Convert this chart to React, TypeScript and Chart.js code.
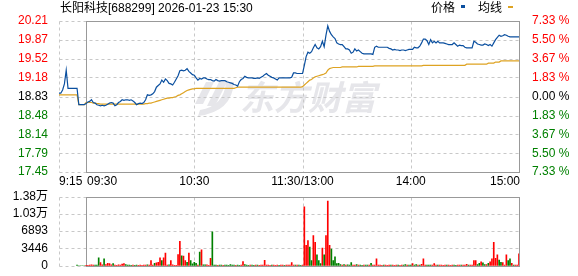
import React, { useEffect, useRef } from 'react';
import { Chart, registerables } from 'chart.js';
Chart.register(...registerables);

const titleText = '长阳科技[688299] 2026-01-23 15:30';
const legendLabels = ['价格', '均线'];
const timeTickValues = [0, 15, 75, 135, 195, 255];
const timeTickLabels = ['9:15', '09:30', '10:30', '11:30/13:00', '14:00', '15:00'];
const prevClose = 18.83;
const priceTickLabels = ['17.45', '17.79', '18.14', '18.48', '18.83', '19.18', '19.52', '19.87', '20.21'];
const pctTickLabels = ['7.33 %', '5.50 %', '3.67 %', '1.83 %', '0.00 %', '1.83 %', '3.67 %', '5.50 %', '7.33 %'];
const volTickValues = [0, 3446, 6893, 10339, 13786];
const volTickLabels = ['0', '3446', '6893', '1.03万', '1.38万'];

// minute index 0 = 9:15, one value per minute
const priceValues = [
  18.89, 18.89, 18.95, 19.06, 19.31, 18.98, 18.98, 18.98, 18.98, 18.98,
  18.98, 18.68, 18.68, 18.68, 18.68, 18.70, 18.73, 18.74, 18.77, 18.72,
  18.71, 18.68, 18.67, 18.66, 18.67, 18.66, 18.67, 18.69, 18.71, 18.72,
  18.71, 18.66, 18.68, 18.72, 18.74, 18.77, 18.76, 18.77, 18.77, 18.76,
  18.77, 18.75, 18.72, 18.68, 18.70, 18.71, 18.70, 18.72, 18.77, 18.86,
  18.85, 18.86, 18.88, 18.92, 19.00, 19.03, 19.06, 19.13, 19.09, 19.15,
  19.12, 19.07, 19.06, 19.04, 19.09, 19.15, 19.21, 19.30, 19.31, 19.30,
  19.31, 19.34, 19.29, 19.26, 19.23, 19.22, 19.17, 19.13, 19.16, 19.15,
  19.17, 19.17, 19.15, 19.14, 19.14, 19.12, 19.11, 19.14, 19.12, 19.11,
  19.12, 19.12, 19.12, 19.10, 19.09, 19.08, 19.07, 19.05, 19.04, 19.02,
  19.10, 19.14, 19.16, 19.20, 19.18, 19.17, 19.17, 19.17, 19.16, 19.16,
  19.17, 19.16, 19.18, 19.20, 19.23, 19.25, 19.22, 19.20, 19.18, 19.17,
  19.15, 19.13, 19.17, 19.17, 19.17, 19.17, 19.17, 19.17, 19.17, 19.18,
  19.26, 19.26, 19.25, 19.25, 19.25, 19.25, 19.40, 19.56, 19.64, 19.62,
  19.65, 19.72, 19.78, 19.72, 19.70, 19.74, 19.84, 19.74, 19.95, 20.12,
  20.02, 19.96, 19.92, 19.89, 19.81, 19.79, 19.78, 19.78, 19.74, 19.70,
  19.70, 19.68, 19.62, 19.64, 19.70, 19.66, 19.68, 19.65, 19.62, 19.61,
  19.61, 19.61, 19.61, 19.61, 19.60, 19.73, 19.75, 19.73, 19.73, 19.73,
  19.73, 19.73, 19.73, 19.71, 19.70, 19.68, 19.69, 19.68, 19.68, 19.67,
  19.68, 19.68, 19.67, 19.68, 19.69, 19.69, 19.69, 19.73, 19.72, 19.72,
  19.75, 19.81, 19.88, 19.88, 19.85, 19.78, 19.87, 19.81, 19.84, 19.81,
  19.84, 19.81, 19.81, 19.81, 19.80, 19.79, 19.78, 19.78, 19.78, 19.81,
  19.78, 19.75, 19.77, 19.76, 19.76, 19.73, 19.72, 19.72, 19.72, 19.72,
  19.84, 19.82, 19.79, 19.78, 19.77, 19.77, 19.79, 19.78, 19.76, 19.78,
  19.75, 19.81, 19.87, 19.91, 19.95, 19.93, 19.94, 19.96, 19.95, 19.93,
  19.92, 19.92, 19.92, 19.92, 19.92, 19.92,
];

const avgValues = [
  18.86, 18.86, 18.86, 18.86, 18.86, 18.86, 18.86, 18.86, 18.86, 18.86,
  18.86, 18.68, 18.68, 18.68, 18.68, 18.72, 18.72, 18.72, 18.72, 18.71,
  18.71, 18.70, 18.70, 18.69, 18.69, 18.69, 18.69, 18.69, 18.69, 18.69,
  18.69, 18.69, 18.69, 18.69, 18.69, 18.69, 18.69, 18.69, 18.69, 18.69,
  18.69, 18.69, 18.69, 18.69, 18.69, 18.69, 18.69, 18.69, 18.70, 18.70,
  18.71, 18.71, 18.72, 18.73, 18.74, 18.75, 18.76, 18.77, 18.78, 18.79,
  18.80, 18.80, 18.81, 18.81, 18.82, 18.83, 18.85, 18.86, 18.88, 18.90,
  18.92, 18.94, 18.95, 18.96, 18.97, 18.97, 18.98, 18.98, 18.98, 18.98,
  18.98, 18.98, 18.98, 18.98, 18.98, 18.98, 18.98, 18.98, 18.98, 18.98,
  18.98, 18.98, 18.98, 18.98, 18.98, 18.98, 18.98, 18.98, 18.99, 19.00,
  19.00, 19.00, 19.00, 19.00, 19.00, 19.00, 19.00, 19.00, 19.00, 19.00,
  19.00, 19.00, 19.00, 19.00, 19.00, 19.00, 19.00, 19.00, 19.00, 19.00,
  19.00, 19.00, 19.00, 19.00, 19.00, 19.00, 19.00, 19.00, 19.00, 19.00,
  19.00, 19.00, 19.00, 19.00, 19.00, 19.01, 19.04, 19.07, 19.10, 19.13,
  19.14, 19.17, 19.19, 19.20, 19.21, 19.22, 19.23, 19.24, 19.26, 19.31,
  19.34, 19.35, 19.36, 19.36, 19.36, 19.36, 19.36, 19.37, 19.37, 19.37,
  19.37, 19.37, 19.37, 19.37, 19.37, 19.37, 19.38, 19.38, 19.38, 19.38,
  19.38, 19.38, 19.38, 19.38, 19.38, 19.39, 19.39, 19.39, 19.39, 19.39,
  19.39, 19.39, 19.39, 19.39, 19.39, 19.39, 19.39, 19.39, 19.39, 19.39,
  19.39, 19.39, 19.39, 19.39, 19.39, 19.39, 19.39, 19.39, 19.39, 19.39,
  19.39, 19.39, 19.40, 19.40, 19.40, 19.40, 19.40, 19.40, 19.40, 19.40,
  19.40, 19.40, 19.40, 19.40, 19.40, 19.40, 19.40, 19.40, 19.40, 19.40,
  19.40, 19.40, 19.40, 19.40, 19.40, 19.40, 19.42, 19.42, 19.42, 19.42,
  19.42, 19.42, 19.42, 19.42, 19.42, 19.42, 19.42, 19.42, 19.44, 19.44,
  19.44, 19.44, 19.46, 19.46, 19.46, 19.48, 19.48, 19.48, 19.48, 19.48,
  19.48, 19.48, 19.48, 19.48, 19.48, 19.48,
];

// volume per minute, starting at minute 10 (9:25)
const volStartMinute = 10;
const volValues = [
  130, 0, 0, 0, 0,
  100, 100, 150, 200, 120, 130, 130, 1600, 640, 200,
  1400, 250, 500, 450, 200, 450, 130, 100, 200, 150,
  320, 450, 250, 150, 120, 100, 120, 100, 130, 100,
  120, 100, 130, 150, 200, 150, 1020, 150, 510, 580,
  700, 1600, 1020, 1600, 2550, 150, 200, 1020, 200, 100,
  100, 2230, 4850, 1980, 1910, 1020, 700, 2550, 1020, 380,
  700, 510, 130, 2740, 3190, 200, 200, 200, 100, 1470,
  6760, 130, 120, 100, 130, 120, 100, 150, 130, 100,
  250, 120, 130, 100, 120, 100, 130, 830, 250, 120,
  100, 130, 120, 100, 130, 120, 100, 130, 150, 1085,
  150, 120, 100, 150, 120, 100, 130, 100, 120, 130,
  100, 120, 150, 130, 640, 150, 130, 120, 150, 100,
  150, 11740, 4080, 5040, 3700, 1020, 6000, 4660, 2170, 1020,
  450, 3510, 2170, 6000, 12890, 4080, 3320, 1020, 1790, 450,
  510, 250, 130, 250, 130, 200, 150, 640, 130, 120,
  250, 130, 120, 100, 130, 120, 150, 120, 510, 120,
  130, 1400, 150, 120, 100, 130, 120, 100, 150, 130,
  120, 100, 130, 120, 100, 120, 130, 250, 120, 130,
  150, 450, 150, 250, 130, 150, 300, 1400, 150, 130,
  120, 150, 120, 450, 130, 120, 150, 120, 100, 130,
  120, 150, 100, 130, 120, 100, 130, 120, 150, 120,
  130, 300, 130, 120, 150, 1020, 1020, 250, 510, 770,
  580, 250, 250, 510, 770, 1400, 4660, 1470, 2170, 1150,
  700, 640, 150, 2170, 1020, 1400, 510, 130, 130, 150,
  2360,
];
const volDirs =
  'ggggg' +
  'rrrrrgggrr' + 'grrrrgrrrr' + 'rrggggrggr' + 'rrrrgrrrgr' + 'rrgrrrgrrr' +
  'rrrgrrgrgg' + 'ggrgrggrrr' + 'gggrggrggg' + 'gggrggrrgg' + 'grggrgrrrr' +
  'rrrgrrrgrr' + 'grrrrrgrgg' + 'rrrrggrrgg' + 'grgrrrgggg' + 'ggrgrgggrr' +
  'grggrggrgr' + 'rrrrrgrrrg' + 'rrrgrrggrg' + 'grggrgrrrg' + 'ggrrrgrrrr' +
  'grrrggrrgr' + 'rrgrrrrggr' + 'ggrgrrrrrg' + 'grrrggrgrr' + 'r';

const BLUE = '#0a4f9f';
const ORANGE = '#dea322';
const RED = '#ff0000';
const GREEN = '#008000';
const GRID = '#c8c8c8';
const BOX = '#999999';
const FONT = '"Liberation Sans", "Noto Sans CJK SC", sans-serif';

const px = (v: number) => Math.round(v) + 0.5;

function drawFrame(chart: any, yScale: any, yTicks: number[]) {
  const { ctx, chartArea: a, scales } = chart;
  const x = scales.x;
  ctx.save();
  ctx.lineWidth = 1;
  ctx.strokeStyle = GRID;
  ctx.setLineDash([3, 3]);
  const top = px(a.top);
  const bottom = px(a.bottom);
  yTicks.forEach((v) => {
    const yy = px(yScale.getPixelForValue(v));
    ctx.beginPath();
    ctx.moveTo(px(a.left), yy);
    ctx.lineTo(px(a.right), yy);
    ctx.stroke();
  });
  [timeTickValues[0], timeTickValues[2], timeTickValues[3], timeTickValues[4]].forEach((t) => {
    const xx = px(x.getPixelForValue(t));
    ctx.beginPath();
    ctx.moveTo(xx, top);
    ctx.lineTo(xx, bottom);
    ctx.stroke();
  });
  ctx.setLineDash([]);
  ctx.strokeStyle = BOX;
  const l = px(x.getPixelForValue(timeTickValues[1]));
  const r = px(x.getPixelForValue(timeTickValues[5]));
  ctx.strokeRect(l, top, r - l, bottom - top);
  ctx.restore();
}

function drawWatermark(ctx: CanvasRenderingContext2D) {
  ctx.save();
  ctx.fillStyle = '#e6e6ea';
  // logo strokes
  ctx.beginPath();
  ctx.moveTo(206, 82); ctx.lineTo(214, 82); ctx.lineTo(203, 104); ctx.lineTo(195, 104); ctx.closePath();
  ctx.fill();
  ctx.beginPath();
  ctx.moveTo(220, 80); ctx.lineTo(228, 80); ctx.lineTo(215, 106); ctx.lineTo(207, 106); ctx.closePath();
  ctx.fill();
  ctx.beginPath();
  ctx.moveTo(234, 82); ctx.quadraticCurveTo(232, 112, 198, 116); ctx.lineTo(200, 110);
  ctx.quadraticCurveTo(224, 106, 226, 82); ctx.closePath();
  ctx.fill();
  ctx.font = 'italic bold 34px "Noto Sans CJK SC", sans-serif';
  ctx.textBaseline = 'middle';
  ctx.textAlign = 'left';
  ctx.fillText('东方财富', 240, 97);
  ctx.restore();
}

const priceTickValues = priceTickLabels.map((s) => parseFloat(s));

const priceDecor = {
  id: 'priceDecor',
  beforeDatasetsDraw(chart: any) {
    drawWatermark(chart.ctx);
    drawFrame(chart, chart.scales.y, priceTickValues);
  },
  afterDraw(chart: any) {
    const { ctx, scales } = chart;
    ctx.save();
    ctx.font = '12px ' + FONT;
    ctx.fillStyle = '#000';
    ctx.textBaseline = 'middle';
    ctx.textAlign = 'left';
    ctx.fillText(titleText, 60, 9);
    // legend
    ctx.fillText(legendLabels[0], 431, 9);
    ctx.fillText(legendLabels[1], 478, 9);
    ctx.fillStyle = BLUE;
    ctx.fillRect(461, 5, 4, 3);
    ctx.fillStyle = ORANGE;
    ctx.fillRect(508, 6, 5, 2);
    // time labels
    ctx.fillStyle = '#000';
    timeTickValues.forEach((t, i) => {
      const xx = scales.x.getPixelForValue(t);
      let align: CanvasTextAlign = 'center';
      let dx = 0;
      if (i === 0) { align = 'left'; }
      else if (i === 1) { align = 'left'; dx = 1; }
      else if (i === timeTickValues.length - 1) { align = 'right'; dx = 1; }
      ctx.textAlign = align;
      ctx.fillText(timeTickLabels[i], xx + dx, 182);
    });
    ctx.restore();
  },
};

const volDecor = {
  id: 'volDecor',
  beforeDatasetsDraw(chart: any) {
    drawFrame(chart, chart.scales.y, volTickValues);
  },
};

function priceColor(v: number) {
  if (Math.abs(v - prevClose) < 1e-6) return '#000000';
  return v > prevClose ? RED : GREEN;
}

export default function App() {
  const priceRef = useRef<HTMLCanvasElement>(null);
  const volRef = useRef<HTMLCanvasElement>(null);

  useEffect(() => {
    document.body.style.margin = '0';
    const priceChart = new Chart(priceRef.current as HTMLCanvasElement, {
      type: 'line',
      data: {
        datasets: [
          {
            label: legendLabels[0],
            data: priceValues.map((v, i) => ({ x: i, y: v })),
            borderColor: BLUE,
            borderWidth: 1.2,
            pointRadius: 0,
            tension: 0,
            fill: false,
          },
          {
            label: legendLabels[1],
            data: avgValues.map((v, i) => ({ x: i, y: v })),
            borderColor: ORANGE,
            borderWidth: 1.2,
            pointRadius: 0,
            tension: 0,
            fill: false,
          },
        ],
      },
      options: {
        animation: false,
        responsive: false,
        maintainAspectRatio: false,
        layout: { padding: { top: 21, bottom: 18, left: 0, right: 0 } },
        plugins: { legend: { display: false }, tooltip: { enabled: false } },
        scales: {
          x: { type: 'linear', min: 0, max: 255, display: false },
          y: {
            position: 'left',
            min: priceTickValues[0],
            max: priceTickValues[priceTickValues.length - 1],
            afterBuildTicks: (s: any) => { s.ticks = priceTickValues.map((v) => ({ value: v })); },
            afterFit: (s: any) => { s.width = 59; },
            grid: { display: false },
            border: { display: false },
            ticks: {
              autoSkip: false,
              padding: 3,
              font: { size: 12, family: FONT },
              color: (c: any) => priceColor(c.tick ? c.tick.value : prevClose),
              callback: (_v: any, i: number) => priceTickLabels[i],
            },
          },
          y2: {
            position: 'right',
            min: priceTickValues[0],
            max: priceTickValues[priceTickValues.length - 1],
            afterBuildTicks: (s: any) => { s.ticks = priceTickValues.map((v) => ({ value: v })); },
            afterFit: (s: any) => { s.width = 59; },
            grid: { display: false },
            border: { display: false },
            ticks: {
              autoSkip: false,
              padding: 5,
              font: { size: 12, family: FONT },
              color: (c: any) => priceColor(c.tick ? c.tick.value : prevClose),
              callback: (_v: any, i: number) => pctTickLabels[i],
            },
          },
        },
      } as any,
      plugins: [priceDecor],
    });

    const volChart = new Chart(volRef.current as HTMLCanvasElement, {
      type: 'bar',
      data: {
        datasets: [
          {
            data: volValues.map((v, i) => ({ x: volStartMinute + i, y: v })),
            backgroundColor: volValues.map((_v, i) => (volDirs[i] === 'r' ? RED : GREEN)),
            barThickness: 1,
            borderWidth: 0,
          },
        ],
      },
      options: {
        animation: false,
        responsive: false,
        maintainAspectRatio: false,
        layout: { padding: { top: 10.5, bottom: 7, left: 0, right: 59 } },
        plugins: { legend: { display: false }, tooltip: { enabled: false } },
        scales: {
          x: { type: 'linear', min: 0, max: 255, display: false, offset: false },
          y: {
            position: 'left',
            min: 0,
            max: volTickValues[volTickValues.length - 1],
            afterBuildTicks: (s: any) => { s.ticks = volTickValues.map((v) => ({ value: v })); },
            afterFit: (s: any) => { s.width = 59; },
            grid: { display: false },
            border: { display: false },
            ticks: {
              autoSkip: false,
              padding: 3,
              font: { size: 12, family: FONT },
              color: '#000000',
              callback: (_v: any, i: number) => volTickLabels[i],
            },
          },
        },
      } as any,
      plugins: [volDecor],
    });

    return () => {
      priceChart.destroy();
      volChart.destroy();
    };
  }, []);

  return (
    <div style={{ position: 'fixed', left: 0, top: 0, width: 578, height: 276, background: '#ffffff' }}>
      <canvas
        ref={priceRef}
        width={578}
        height={190}
        style={{ position: 'absolute', left: 0, top: 0, width: 578, height: 190 }}
      />
      <canvas
        ref={volRef}
        width={578}
        height={90}
        style={{ position: 'absolute', left: 0, top: 186, width: 578, height: 90 }}
      />
    </div>
  );
}
